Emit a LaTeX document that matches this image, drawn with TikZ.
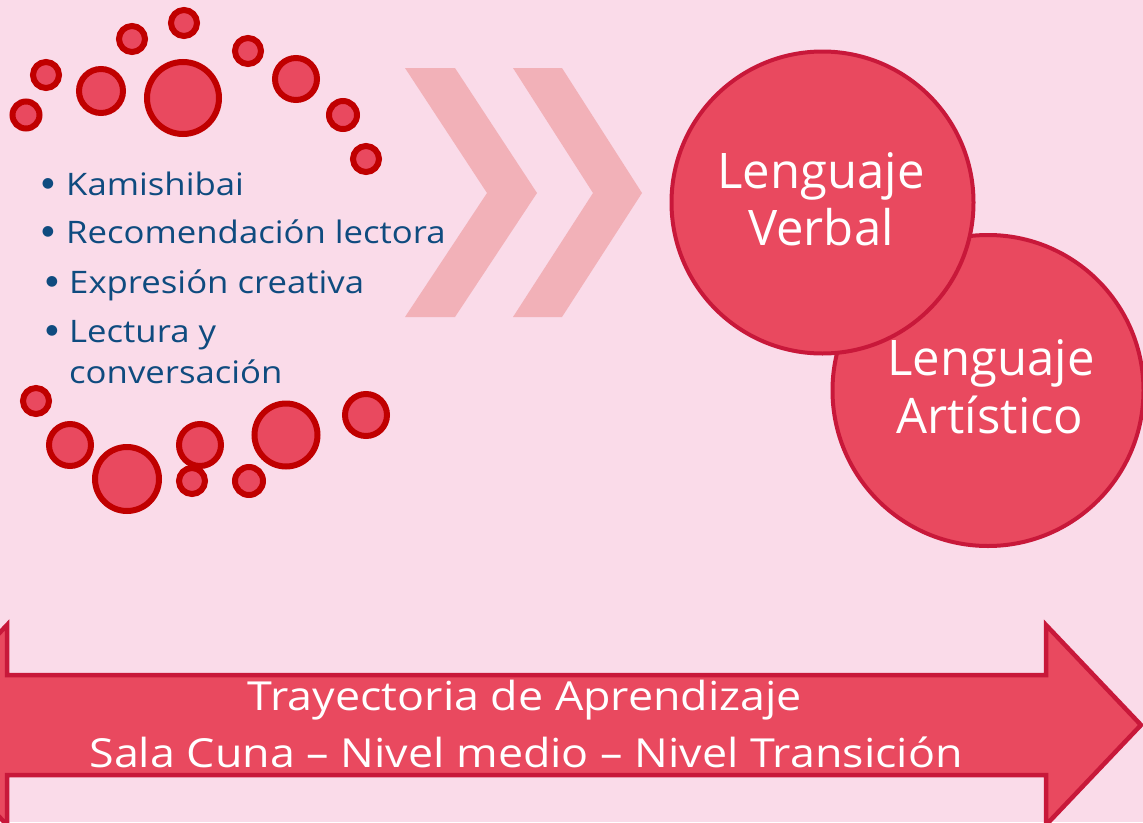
\documentclass[tikz,border=0pt]{standalone}
\usepackage{fontspec}
\setmainfont{Open Sans}
\newfontfamily\widefont[FakeStretch=1.12]{Open Sans}
\newfontfamily\bulletfont{DejaVu Sans}
\definecolor{bg}{HTML}{FADBE9}
\definecolor{chev}{HTML}{F2B1B8}
\definecolor{redfill}{HTML}{E9495F}
\definecolor{darkring}{HTML}{C00000}
\definecolor{bigring}{HTML}{C8183A}
\definecolor{bluetext}{HTML}{0F4B7F}
\tikzset{
  dot/.style={circle, fill=redfill, draw=darkring, line width=6pt, inner sep=0pt, minimum size=#1},
  bigcirc/.style={circle, fill=redfill, draw=bigring, line width=4pt, inner sep=0pt, minimum size=#1},
  chevron/.style={fill=chev, draw=none},
  bullettext/.style={anchor=base west, inner sep=0pt, text=bluetext, font=\widefont\fontsize{31}{31}\selectfont},
  bulletmark/.style={anchor=center, inner sep=0pt, text=bluetext, font=\bulletfont\fontsize{14}{14}\selectfont},
  bigtext/.style={anchor=base, inner sep=0pt, text=white, font=\fontsize{49}{49}\selectfont},
  arrowtext/.style={anchor=base, inner sep=0pt, text=white, font=\widefont\fontsize{40}{40}\selectfont},
  bigarrow/.style={fill=redfill, draw=bigring, line width=4.5pt, line join=miter}
}
\begin{document}
\begin{tikzpicture}[x=1pt, y=-1pt]
\useasboundingbox (0,0) rectangle (1143,822);
\clip (0,0) rectangle (1143,822);
\fill[bg] (0,0) rectangle (1143,822);
% chevrons
\fill[chevron] (405,68) -- (455,68) -- (537,193) -- (455,317) -- (405,317) -- (487,193) -- cycle;
\fill[chevron] (513,68) -- (562,68) -- (642,193) -- (562,317) -- (513,317) -- (593,193) -- cycle;
% top arc of dots
\node[dot=27pt] (t1) at (26,115) {};
\node[dot=26pt] (t2) at (46,75) {};
\node[dot=44pt] (t3) at (101,91) {};
\node[dot=26pt] (t4) at (132,39) {};
\node[dot=26pt] (t5) at (184,23) {};
\node[dot=72pt] (t6) at (183,98) {};
\node[dot=26pt] (t7) at (248,51) {};
\node[dot=42pt] (t8) at (296,79) {};
\node[dot=28pt] (t9) at (343,115) {};
\node[dot=26pt] (t10) at (366,159) {};
% bottom arc of dots
\node[dot=26pt] (b1) at (36,401) {};
\node[dot=42pt] (b2) at (70,445) {};
\node[dot=64pt] (b3) at (127,479) {};
\node[dot=42pt] (b4) at (200,445) {};
\node[dot=26pt] (b5) at (192,481) {};
\node[dot=28pt] (b6) at (249,481) {};
\node[dot=63pt] (b7) at (286,435) {};
\node[dot=42pt] (b8) at (366,415) {};
% bullet list
\node[bulletmark] (k0) at (48,184) {●};
\node[bullettext] (k1) at (66,195) {Kamishibai};
\node[bulletmark] (r0) at (48,232) {●};
\node[bullettext] (r1) at (66,243) {Recomendación lectora};
\node[bulletmark] (e0) at (52,282) {●};
\node[bullettext] (e1) at (69,293) {Expresión creativa};
\node[bulletmark] (l0) at (52,331) {●};
\node[bullettext] (l1) at (69,342) {Lectura y};
\node[bullettext] (l2) at (69,383) {conversación};
% big circles
\node[bigcirc=311pt] (art) at (988,390.5) {};
\node[bigcirc=302pt] (verb) at (822.5,202.5) {};
\node[bigtext] (v1) at (821,188) {Lenguaje};
\node[bigtext] (v2) at (821,245) {Verbal};
\node[bigtext] (a1) at (991,375) {Lenguaje};
\node[bigtext] (a2) at (990,433) {Artístico};
% bottom double arrow
\draw[bigarrow] (-88,725) -- (7,625) -- (7,675) -- (1046,675) -- (1046,625) -- (1141,725) -- (1046,825) -- (1046,775) -- (7,775) -- (7,825) -- cycle;
\node[arrowtext] (tr1) at (525,710) {Trayectoria de Aprendizaje};
\node[arrowtext] (tr2) at (526,767) {Sala Cuna – Nivel medio – Nivel Transición};
\end{tikzpicture}
\end{document}
